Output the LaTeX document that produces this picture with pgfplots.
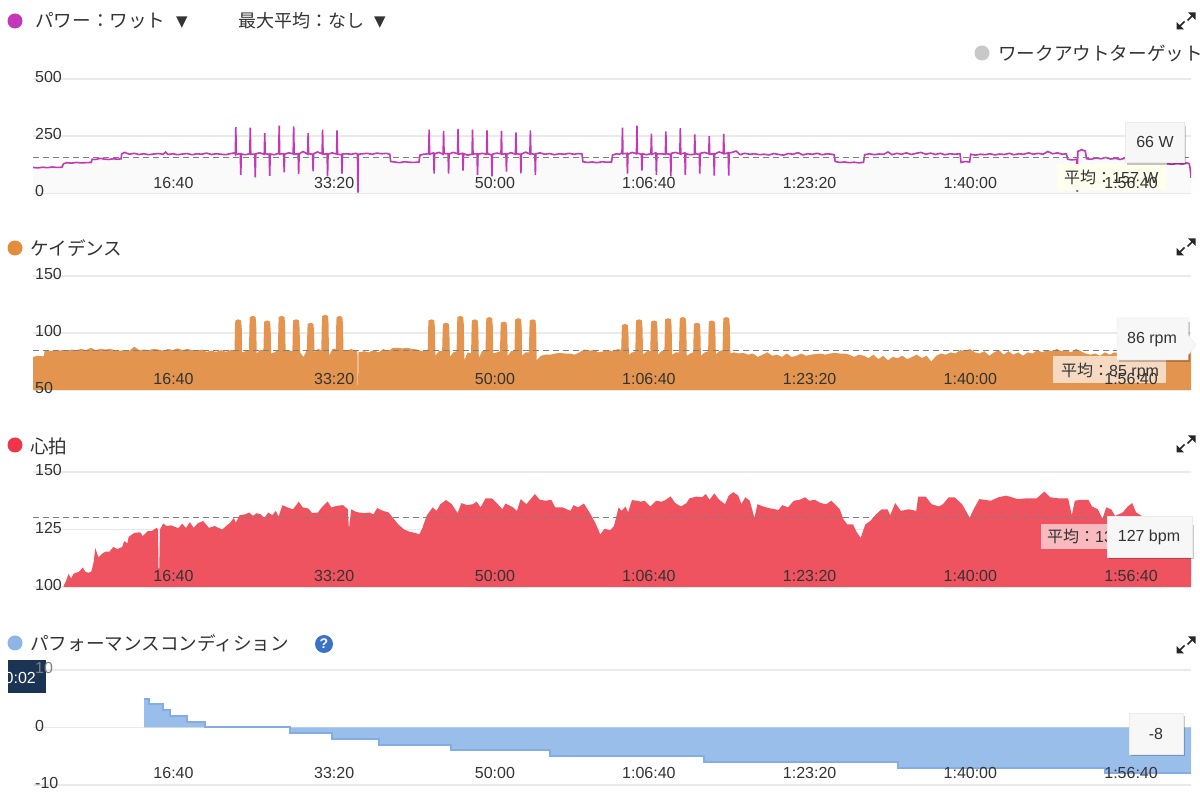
\documentclass[border=0pt]{standalone}
\usepackage{fontspec}
\setmainfont{Liberation Sans}
\newfontfamily\jp{Noto Sans CJK JP}
\newfontfamily\djv{DejaVu Sans}
\usepackage{pgfplots}
\usepackage{pgfplotstable}
\pgfplotsset{compat=1.18}
\definecolor{pw}{HTML}{C238B8}
\definecolor{cad}{HTML}{E3954F}
\definecolor{cadd}{HTML}{E38D3C}
\definecolor{hr}{HTML}{EE535F}
\definecolor{hrd}{HTML}{EE3648}
\definecolor{pc}{HTML}{9ABEEA}
\definecolor{pcl}{HTML}{82ADE6}
\definecolor{pcd}{HTML}{8FB5E8}
\definecolor{txt}{HTML}{333333}
\definecolor{gridc}{HTML}{EAEAEA}
\definecolor{avg}{HTML}{7F7F7F}
\definecolor{navy}{HTML}{1B3453}
\definecolor{greydot}{HTML}{C8C8C8}
\definecolor{helpblue}{HTML}{3A72C8}
\definecolor{meany}{HTML}{FFFFEE}

\pgfplotstableread{
t v
0 112
30 110
60 113
90 111
120 114
150 112
180 113
190 128
210 133
240 131
270 134
300 132
330 133
362 134
368 148
390 147
420 152
440 149
470 147
500 150
530 148
548 150
552 172
570 178
600 170
630 174
660 169
690 172
720 168
750 171
780 173
810 170
825 179
840 169
870 172
900 168
930 171
960 173
990 168
1020 172
1050 170
1080 175
1110 169
1140 172
1170 170
1200 168
1230 173
1255 176
1259 171
1262 289
1265 170
1290 172
1293 80
1296 171
1320 168
1349 172
1352 287
1355 171
1380 170
1383 69
1386 172
1410 176
1439 170
1442 263
1445 172
1470 170
1473 75
1476 171
1500 168
1529 174
1532 295
1535 171
1560 172
1563 91
1566 170
1590 176
1619 172
1622 292
1625 170
1650 172
1653 83
1656 171
1680 182
1709 170
1712 263
1715 172
1740 170
1743 95
1746 172
1770 180
1799 172
1802 278
1805 170
1830 172
1833 73
1836 170
1860 176
1889 171
1892 275
1895 170
1920 168
1923 85
1926 171
1950 172
1980 170
2010 174
2019 171
2022 2
2025 170
2050 172
2080 174
2110 170
2140 175
2170 172
2200 174
2220 170
2226 138
2250 136
2280 133
2310 137
2340 135
2370 134
2402 136
2408 166
2430 170
2462 172
2465 278
2468 170
2493 176
2496 85
2499 172
2525 178
2552 170
2555 272
2558 173
2583 172
2586 85
2589 171
2615 178
2642 172
2645 281
2648 170
2673 174
2676 98
2679 172
2705 166
2732 170
2735 278
2738 171
2763 172
2766 79
2769 170
2795 174
2822 170
2825 275
2828 172
2853 168
2856 73
2859 170
2885 175
2912 172
2915 272
2918 170
2943 172
2946 94
2949 170
2975 177
3002 170
3005 266
3008 172
3033 170
3036 86
3039 171
3065 179
3092 171
3095 275
3098 172
3123 170
3126 80
3129 172
3155 176
3185 170
3215 173
3245 168
3275 172
3305 170
3335 174
3365 170
3395 173
3416 171
3422 137
3450 134
3480 136
3510 133
3540 137
3570 135
3600 136
3606 166
3630 172
3650 170
3665 176
3668 287
3671 172
3696 174
3699 85
3702 170
3728 178
3755 172
3758 295
3761 174
3786 170
3789 98
3792 172
3818 168
3845 172
3848 260
3851 170
3876 176
3879 80
3882 171
3908 172
3935 170
3938 270
3941 172
3966 170
3969 73
3972 174
3998 178
4025 172
4028 284
4031 171
4056 176
4059 80
4062 172
4088 168
4115 170
4118 257
4121 172
4146 170
4149 85
4152 174
4178 178
4205 172
4208 249
4211 170
4236 172
4239 76
4242 170
4268 180
4295 174
4298 259
4301 172
4326 176
4329 76
4332 176
4350 178
4375 184
4400 168
4430 174
4460 170
4490 172
4520 168
4550 170
4580 167
4610 173
4640 169
4670 166
4700 173
4730 170
4760 177
4790 167
4820 172
4850 170
4880 174
4910 168
4940 172
4970 170
4985 168
4992 138
5020 134
5050 136
5080 133
5110 135
5140 132
5168 135
5175 168
5205 172
5235 168
5265 171
5295 170
5320 180
5345 168
5375 174
5405 170
5435 176
5465 169
5495 174
5525 178
5555 170
5585 175
5615 169
5645 174
5675 168
5705 172
5735 170
5768 172
5775 134
5800 138
5828 136
5835 170
5865 166
5895 170
5925 168
5955 172
5985 167
6015 171
6045 169
6075 174
6105 168
6135 172
6165 170
6195 176
6225 170
6255 174
6285 170
6315 182
6345 172
6375 176
6405 170
6430 172
6438 148
6465 145
6494 148
6498 5
6501 182
6525 190
6548 184
6556 150
6585 148
6615 154
6645 150
6675 156
6705 149
6735 152
6765 147
6795 153
6825 150
6855 148
6885 154
6915 151
6945 149
6975 152
7005 148
7035 150
7055 152
7062 128
7090 126
7120 130
7150 127
7180 132
7195 128
7200 110
7206 66
}\powerdata

\pgfplotstableread{
t v
0 79
30 80
60 79.5
68 80
72 84
90 84
120 84.5
150 84
180 85
210 84.5
240 85.5
270 85
300 86
330 85
360 87
390 85
420 86
450 85.5
480 86
510 85
540 84.5
570 85
600 84.5
630 88
660 85
690 85.5
720 85
750 86
780 85.5
810 84.5
840 86
870 85
900 86.5
930 85
960 86
990 85
1020 84
1050 85.5
1080 83.5
1110 84.5
1140 83.5
1170 85
1200 83.5
1230 85
1254 85
1257 104
1259 111
1278 112
1295 111
1299 104
1302 83
1323 84
1344 84
1347 107
1349 114
1368 115
1385 114
1389 107
1392 82
1413 85
1434 85
1437 103
1439 110
1458 111
1475 110
1479 103
1482 82
1503 83
1524 85
1527 107
1529 114
1548 115
1565 114
1569 107
1572 84
1593 85
1614 84
1617 104
1619 111
1638 112
1655 111
1659 104
1662 83
1683 79
1704 85
1707 101
1709 108
1728 109
1745 108
1749 101
1752 83
1773 86
1794 85
1797 108
1799 115
1818 116
1835 115
1839 108
1842 80
1863 86
1884 86
1887 107
1889 114
1908 115
1925 114
1929 107
1932 85
1950 84
1980 86
2010 84
2019 84
2021 50
2023 50
2025 83
2060 84
2090 83
2120 85
2150 83
2180 86
2210 84
2240 87
2270 87
2300 86.5
2330 87
2360 86
2390 85.5
2420 84
2456 84
2459 104
2461 111
2480 112
2497 111
2501 104
2504 80
2525 84
2546 84
2549 101
2551 108
2570 109
2587 108
2591 101
2594 79
2615 83
2636 84
2639 107
2641 114
2660 115
2677 114
2681 107
2684 76
2705 83
2726 82
2729 104
2731 111
2750 112
2767 111
2771 104
2774 78
2795 84
2816 84
2819 106
2821 113
2840 114
2857 113
2861 106
2864 82
2885 83
2906 84
2909 102
2911 109
2930 110
2947 109
2951 102
2954 80
2975 84
2996 84
2999 105
3001 112
3020 113
3037 112
3041 105
3044 80
3065 83
3086 83
3089 104
3091 111
3110 112
3127 111
3131 104
3134 76
3160 80
3190 81
3220 81
3250 82
3280 82.5
3310 82
3340 82
3370 81
3400 83
3430 85.5
3460 84.5
3490 85
3520 83
3550 84
3580 85
3610 84
3640 86
3660 85
3663 100
3665 107
3684 108
3701 107
3705 100
3708 81
3730 83
3748 84
3751 104
3753 111
3772 112
3789 111
3793 104
3796 81
3820 84
3841 84
3844 103
3846 110
3865 111
3882 110
3886 103
3889 81
3910 84
3929 84
3932 105
3934 112
3953 113
3970 112
3974 105
3977 81
4000 83
4020 83
4023 106
4025 113
4044 114
4061 113
4065 106
4068 80
4090 82
4108 83
4111 101
4113 108
4132 109
4149 108
4153 101
4156 80
4180 83
4201 84
4204 103
4206 110
4225 111
4242 110
4246 103
4249 81
4270 84
4291 85
4294 106
4296 113
4315 114
4332 113
4336 106
4339 82
4360 83
4390 82
4420 82.5
4450 81
4480 82
4510 79
4540 81
4570 83
4600 80
4630 81
4660 79
4690 82
4720 79
4750 80
4780 82
4810 80
4840 81
4870 81.5
4900 82
4930 81
4960 82
4990 82.5
5020 82
5050 82
5080 81
5110 79
5140 81
5170 80
5200 78
5230 81
5260 77
5290 80
5320 76
5350 79
5380 78
5410 80
5440 77
5470 79
5500 81
5530 78
5560 80
5590 75
5620 80
5650 82
5680 81
5710 83
5740 82
5770 85
5800 84
5830 86
5860 83
5890 82
5920 84
5950 80
5980 83
6010 85
6040 81
6070 84
6100 81
6130 83
6160 80
6190 83
6220 82
6250 85
6280 83
6310 85
6340 84
6370 86
6400 84
6430 85
6460 83
6490 86
6520 84
6550 82
6580 81
6610 82
6640 80
6670 83
6700 81
6730 83
6760 82
6790 81
6820 83
6850 82
6880 84
6910 82
6940 83
6970 82
7000 84
7030 83
7060 82
7090 84
7120 83
7150 82
7180 84
7206 86
}\caddata

\pgfplotstableread{
t v
190 100.3
207 102.9
221 105.6
238 103.7
250 105.6
267 106.2
286 106.6
310 108.5
326 106.6
345 106.2
362 106.6
376 110.3
388 116.9
407 112.9
429 114.4
452 115.4
476 115.4
500 117.4
524 116.5
555 117.4
567 119.9
588 119.1
595 121.8
631 123.5
667 123.8
683 122.1
714 124.3
738 124.3
769 125.7
778 125
781 108.1
786 108.1
790 125
810 127.6
833 126.5
857 126.8
881 126.2
904 125.6
928 127.5
952 125.7
976 128.2
1000 125.7
1023 127.6
1059 128.7
1095 125.7
1130 126.5
1154 125.7
1178 125
1202 126.5
1226 127.9
1250 130.1
1262 127.9
1285 131.2
1321 131.6
1345 132.4
1369 130.9
1392 132.1
1416 131.6
1440 130.1
1464 132.4
1488 131.2
1511 133.1
1528 130.6
1552 135.6
1583 134.6
1618 133.8
1654 137.1
1678 134.6
1714 134.1
1737 132.1
1773 132.4
1797 134.6
1833 137.2
1856 134.6
1892 135.3
1928 135.6
1959 133.8
1966 125
1980 133.8
2011 132.6
2059 132.1
2094 132.4
2118 131.6
2142 134.3
2178 133.1
2213 132.4
2244 129.7
2273 127.2
2309 125
2344 124
2380 123.5
2404 122.8
2423 125.7
2451 131.2
2487 134.6
2511 133.1
2535 136
2570 137.8
2606 136
2642 132.1
2666 136.5
2701 135.6
2737 136
2761 137.1
2785 134.6
2816 138.5
2856 138.5
2892 136
2921 133.8
2940 136.3
2987 134.6
3011 133.1
3035 138.2
3070 136
3123 140.4
3154 137.9
3190 137.5
3225 137.9
3249 134.6
3297 134.6
3344 133.1
3363 135.6
3392 134.6
3428 136.3
3463 132.4
3499 127.9
3530 122.8
3556 125.3
3592 124.7
3615 126.5
3644 134.6
3663 133.1
3687 135
3703 132.4
3727 137.8
3758 137.5
3782 137.1
3806 137.5
3841 135
3877 137.5
3913 137.1
3937 137.9
3967 139.4
3996 136.5
4032 135
4067 136.5
4084 138.5
4127 139.3
4163 139
4187 140.4
4210 137.9
4239 140.7
4270 137.9
4306 136
4329 139.7
4358 141.2
4389 139.7
4408 136
4432 139
4460 137.5
4489 130.1
4508 136
4544 135
4579 134.3
4639 133.5
4663 135.6
4698 134.6
4734 137.5
4770 137.9
4805 139
4829 137.5
4865 137.9
4901 136.5
4936 136
4967 137.5
4996 135.6
5020 133.8
5043 129.4
5067 127.2
5103 127.2
5122 124.3
5150 121.3
5179 127.2
5210 128.7
5246 131.6
5281 133.8
5317 133.8
5334 131.2
5365 136.5
5400 133.1
5448 133.8
5496 133.1
5508 139.3
5555 139.3
5591 136
5638 135
5662 136
5698 139
5734 139
5781 136
5829 130.1
5853 133.8
5888 138.2
5924 137.9
5960 137.5
6007 139
6055 139.7
6091 139
6126 138.2
6174 138.5
6245 138.5
6293 141.5
6329 139
6388 138.5
6441 138.5
6464 131.2
6483 137.5
6519 137.9
6567 137.9
6590 135
6626 133.8
6655 129.7
6678 134.6
6709 133.8
6733 130.9
6781 132.4
6812 135
6840 136.5
6864 132.4
6900 130.9
6983 130.6
7054 130
7102 129.1
7150 127.2
7206 127
}\hrdata

\pgfplotstableread{
t v
691 5
722 4
810 3
853 2
957 1
1072 0
1600 -1
1858 -2
2155 -3
2603 -4
3220 -5
4175 -6
5385 -7
6670 -8
7206 -8
}\pcdata

\pgfplotsset{
  base/.style={
    at={(33pt,#1)}, anchor=south west,
    scale only axis, width=1158pt,
    xmin=0, xmax=7206,
    xtick={1000,2000,3000,4000,5000,6000,7000},
    axis line style={draw=none},
    major tick length=0pt,
    tick label style={font=\fontsize{16}{18}\selectfont,text=txt,inner sep=0pt,
      /pgf/number format/assume math mode=true},
    xticklabel style={anchor=east,yshift=11pt},
    yticklabel style={anchor=west,xshift=2pt,yshift=2pt},
    clip=true,
  },
  dataaxis/.style={
    ymajorgrids,
    grid style={draw=gridc,line width=1.2pt},
    xticklabels={},yticklabels={},
  },
  labelaxis/.style={
    xticklabels={16:40,33:20,50:00,1:06:40,1:23:20,1:40:00,1:56:40},
  },
}
\begin{document}
\begin{tikzpicture}
\clip (0,0) rectangle (1200pt,795pt);
\path (0,0) rectangle (1200pt,795pt);

% power
\begin{axis}[base=602pt,dataaxis,height=114pt,ymin=0,ymax=500,ytick={0,250,500}]
\addplot[draw=none,fill=black!2] table[x=t,y=v] {\powerdata} \closedcycle;
\addplot[pw,line width=1.6pt] table[x=t,y=v] {\powerdata};
\addplot[avg,line width=1pt,dash pattern=on 6pt off 4pt] coordinates {(0,157) (7206,157)};
\end{axis}

% cadence
\begin{axis}[base=405pt,dataaxis,height=114pt,ymin=50,ymax=150,ytick={50,100,150}]
\addplot[draw=none,fill=cad] table[x=t,y=v] {\caddata} \closedcycle;
\addplot[avg,line width=1pt,dash pattern=on 6pt off 4pt] coordinates {(0,85) (7206,85)};
\end{axis}

% heart rate
\begin{axis}[base=208pt,dataaxis,height=115pt,ymin=100,ymax=150,ytick={100,125,150}]
\addplot[draw=none,fill=hr] table[x=t,y=v] {\hrdata} \closedcycle;
\addplot[avg,line width=1pt,dash pattern=on 6pt off 4pt] coordinates {(0,130) (7206,130)};
\end{axis}

% performance condition
\begin{axis}[base=10pt,dataaxis,height=115pt,ymin=-10,ymax=10,ytick={-10,0,10}]
\addplot[const plot,draw=none,fill=pc] table[x=t,y=v] {\pcdata} \closedcycle;
\addplot[const plot,pcl,line width=2pt] table[x=t,y=v] {\pcdata};
\end{axis}

\begin{scope}[x=1pt,y=-1pt,shift={(0pt,795pt)}]
% dark time box behind the "10" tick
\fill[navy] (8,660) rectangle (46,693);
\begin{scope}
\clip (8,660) rectangle (46,693);
\node[anchor=east,text=white,font=\fontsize{16}{18}\selectfont,inner sep=0pt] at (36,678) {0:02};
\end{scope}
% mean boxes
\tikzset{mean/.style={anchor=west,inner sep=0pt,text=txt,font=\fontsize{16}{18}\selectfont}}
\fill[meany] (1057,164) rectangle (1166,190);
\node[mean] at (1064,177) {{\jp 平均：}157 W};
\fill[white,fill opacity=0.65] (1053,356) rectangle (1166,383);
\node[mean] at (1061,371) {{\jp 平均：}85 rpm};
\fill[white,fill opacity=0.6] (1041,524) rectangle (1166,549);
\node[mean] at (1047,537) {{\jp 平均：}130 bpm};
\end{scope}

% tick labels above the areas
\begin{axis}[base=602pt,labelaxis,height=114pt,ymin=0,ymax=500,ytick={0,250,500},
  xticklabel style={yshift=-1pt}]
\end{axis}
\begin{axis}[base=405pt,labelaxis,height=114pt,ymin=50,ymax=150,ytick={50,100,150}]
\end{axis}
\begin{axis}[base=208pt,labelaxis,height=115pt,ymin=100,ymax=150,ytick={100,125,150}]
\end{axis}
\begin{axis}[base=10pt,labelaxis,height=115pt,ymin=-10,ymax=10,ytick={-10,0,10},
  yticklabels={-10,0,},
  xticklabel style={yshift=1pt}]
\end{axis}

\begin{scope}[x=1pt,y=-1pt,shift={(0pt,795pt)}]
\tikzset{hd/.style={anchor=west,inner sep=0pt,text=txt,font=\jp\fontsize{18.6}{20}\selectfont},
  tip/.style={fill=white!97!black,draw=black!8,line width=0.5pt},
  shd/.style={fill=black,fill opacity=0.22,draw=none},
  tiptext/.style={text=txt,inner sep=0pt,font=\fontsize{16}{18}\selectfont}}
% the "10" tick, greyed so that it reads on the dark box too
\node[anchor=west,inner sep=0pt,text=black!50,font=\fontsize{16}{18}\selectfont] at (35,668) {10};
% legends
\fill[pw] (15,21) circle (7.5);
\node[hd] at (35,21) {パワー：ワット};
\node[anchor=center,inner sep=0pt,text=txt,font=\djv\fontsize{15}{16}\selectfont] at (182,23) {▼};
\node[hd,font=\jp\fontsize{18}{20}\selectfont] at (238,21) {最大平均：なし};
\node[anchor=center,inner sep=0pt,text=txt,font=\djv\fontsize{15}{16}\selectfont] at (380,23) {▼};
\fill[greydot] (982,53) circle (7.5);
\node[hd] at (998,53) {ワークアウトターゲット};
\fill[cadd] (15,248) circle (7.5);
\node[hd] at (30,248) {ケイデンス};
\fill[hrd] (15,445) circle (7.5);
\node[hd] at (30,446) {心拍};
\fill[pcd] (15,643) circle (7.5);
\node[hd] at (30,643) {パフォーマンスコンディション};
\fill[helpblue] (324,644) circle (9);
\node[text=white,inner sep=0pt,font=\bfseries\fontsize{14}{15}\selectfont] at (324,644) {?};
% expand icons
\foreach \yy in {21,247,444,645}{
  \begin{scope}[shift={(1186,\yy)}]
    \fill[black!85] (2,-8.5) -- (9.5,-8.5) -- (9.5,-1) -- cycle;
    \fill[black!85] (-2,8.5) -- (-9.5,8.5) -- (-9.5,1) -- cycle;
    \draw[black!85,line width=1.6] (6,-5) -- (1.5,-0.5);
    \draw[black!85,line width=1.6] (-6,5) -- (-1.5,0.5);
  \end{scope}
}
% tooltips
\fill[shd] (1127,126) rectangle (1186,165);
\filldraw[tip] (1125,122) rectangle (1184,162);
\node[tiptext] at (1155,142) {66 W};
\fill[shd] (1119,322) rectangle (1190,362);
\filldraw[tip] (1117,318) -- (1188,318) -- (1188,335) -- (1196,345) -- (1188,355) -- (1188,360) -- (1117,360) -- cycle;
\node[tiptext] at (1152,340) {86 rpm};
\fill[shd] (1109,525) rectangle (1194,559);
\filldraw[tip] (1107,516) rectangle (1192,557);
\node[tiptext] at (1149,537) {127 bpm};
\fill[shd] (1131,716) rectangle (1185,756);
\filldraw[tip] (1129,713) rectangle (1183,754);
\node[tiptext] at (1156,734) {-8};
\end{scope}
\end{tikzpicture}
\end{document}
